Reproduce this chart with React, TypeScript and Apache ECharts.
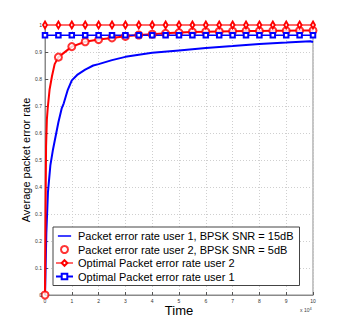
import React, { useEffect, useRef } from "react";
import * as echarts from "echarts";

// Time in units of 10^4
const user1Time = [0, 0.01, 0.05, 0.11, 0.2, 0.3, 0.5, 0.62, 0.7, 0.85, 1.0, 1.2, 1.5, 1.8, 2.0, 2.5, 3.0, 3.5, 4.0, 5.0, 6.0, 7.0, 8.0, 9.0, 9.9, 10];
const user1Rate = [0, 0.04, 0.23, 0.38, 0.48, 0.54, 0.64, 0.69, 0.71, 0.76, 0.795, 0.815, 0.835, 0.85, 0.855, 0.87, 0.882, 0.89, 0.897, 0.906, 0.915, 0.922, 0.93, 0.935, 0.94, 0.937];

const user2LineTime = [0, 0.02, 0.04, 0.07, 0.1, 0.17, 0.26, 0.36, 0.5];
const user2LineRate = [0, 0.3, 0.55, 0.65, 0.69, 0.76, 0.81, 0.855, 0.881];

const markerTime = [0, 0.5, 1, 1.5, 2, 2.5, 3, 3.5, 4, 4.5, 5, 5.5, 6, 6.5, 7, 7.5, 8, 8.5, 9, 9.5, 10];
const user2Rate = [0, 0.881, 0.92, 0.938, 0.946, 0.952, 0.958, 0.963, 0.966, 0.969, 0.972, 0.974, 0.975, 0.976, 0.977, 0.978, 0.978, 0.979, 0.979, 0.98, 0.98];
const optimalUser2 = 1.0;
const optimalUser1 = 0.962;

const yTickValues = [0, 0.1, 0.2, 0.3, 0.4, 0.5, 0.6, 0.7, 0.8, 0.9, 1];
const yTickLabels = ["0", "0.1", "0.2", "0.3", "0.4", "0.5", "0.6", "0.7", "0.8", "0.9", "1"];

const legendNames = [
  "Packet error rate user 1, BPSK SNR = 15dB",
  "Packet error rate user 2, BPSK SNR = 5dB",
  "Optimal Packet error rate user 2",
  "Optimal Packet error rate user 1",
];

export default function App() {
  const ref = useRef<HTMLDivElement>(null);
  useEffect(() => {
    if (!ref.current) return;
    const chart = echarts.init(ref.current, null, { renderer: "svg" });
    const font = "Liberation Sans, Arial, sans-serif";
    const user2Line = user2LineTime.map((t, i) => [t, user2LineRate[i]]).concat(
      markerTime.slice(2).map((t, i) => [t, user2Rate[i + 2]])
    );
    chart.setOption({
      animation: false,
      backgroundColor: "#fff",
      grid: {
        left: 45,
        right: 33,
        top: 25,
        bottom: 36,
        show: true,
        borderColor: "#8a8a8a",
        borderWidth: 1,
      },
      xAxis: {
        type: "value",
        min: 0,
        max: 10,
        interval: 1,
        name: "Time",
        nameLocation: "middle",
        nameGap: 9,
        nameMoveOverlap: false,
        nameTextStyle: { fontSize: 13, fontFamily: font, color: "#000" },
        axisLine: { lineStyle: { color: "#8a8a8a" } },
        axisTick: { inside: true, length: 3, lineStyle: { color: "#555" } },
        axisLabel: { fontSize: 5, color: "#333", margin: 3, fontFamily: font },
        splitLine: { show: true, lineStyle: { color: "#cfcfcf", type: [1, 2] } },
      },
      yAxis: {
        type: "value",
        position: "left",
        min: 0,
        max: 1,
        interval: 0.1,
        axisLine: { show: true, lineStyle: { color: "#8a8a8a" } },
        axisTick: { show: true, inside: true, length: 3, lineStyle: { color: "#555" } },
        axisLabel: { show: false },
        splitLine: { show: true, lineStyle: { color: "#cfcfcf", type: [1, 2] } },
      },
      legend: {
        orient: "vertical",
        left: 53,
        top: 227,
        data: [
          { name: legendNames[0], icon: "path://M0,0h0.01v0.01h-0.01zM0,3.6h17v1.8h-17zM16.99,8.99h0.01v0.01h-0.01z" },
          { name: legendNames[1] },
          { name: legendNames[2] },
          { name: legendNames[3] },
        ],
        backgroundColor: "#fff",
        borderColor: "#444",
        borderWidth: 1,
        borderRadius: 0,
        padding: [3, 6, 3, 2],
        itemWidth: 17,
        itemHeight: 7,
        itemGap: 1.5,
        textStyle: { fontSize: 11, fontFamily: font, color: "#000", lineHeight: 12 },
      },
      series: [
        {
          name: legendNames[0],
          type: "line",
          data: user1Time.map((t, i) => [t, user1Rate[i]]),
          symbol: "none",
          lineStyle: { color: "#0000ff", width: 2 },
          itemStyle: { color: "#0000ff" },
          z: 3,
        },
        {
          name: "user2line",
          type: "line",
          data: user2Line,
          symbol: "none",
          lineStyle: { color: "#ff0000", width: 2 },
          z: 3,
        },
        {
          name: legendNames[1],
          type: "scatter",
          data: markerTime.map((t, i) => [t, user2Rate[i]]),
          symbol: "emptyCircle",
          symbolSize: 7,
          itemStyle: { color: "#ff0000", borderColor: "#ff0000", borderWidth: 1.8 },
          clip: false,
          z: 4,
        },
        {
          name: legendNames[2],
          type: "line",
          data: markerTime.map((t) => [t, optimalUser2]),
          symbol: "emptyDiamond",
          symbolSize: [4, 7],
          showAllSymbol: true,
          lineStyle: { color: "#ff6a6a", width: 2 },
          itemStyle: { color: "#ff0000", borderColor: "#ff0000", borderWidth: 1 },
          clip: false,
          z: 5,
        },
        {
          name: legendNames[3],
          type: "line",
          data: markerTime.map((t) => [t, optimalUser1]),
          symbol: "emptyRect",
          symbolSize: 4.5,
          showAllSymbol: true,
          lineStyle: { color: "#0000ff", width: 1.5 },
          itemStyle: { color: "#0000ff", borderColor: "#0000ff", borderWidth: 1 },
          clip: false,
          z: 4,
        },
      ],
    });

    const yLabelTexts: any[] = [];
    yTickValues.forEach((v, i) => {
      const p = chart.convertToPixel({ gridIndex: 0 } as any, [0, v]) as any;
      if (p && isFinite(p[0]) && isFinite(p[1])) {
        yLabelTexts.push({
          type: "text",
          x: p[0] - 3,
          y: p[1],
          z: 10,
          style: {
            text: yTickLabels[i],
            fontSize: 5,
            fill: "#333",
            fontFamily: font,
            align: "right",
            verticalAlign: "middle",
          },
        });
      }
    });

    chart.setOption({
      graphic: [
        {
          type: "text",
          x: 26,
          y: 160,
          rotation: Math.PI / 2,
          style: {
            text: "Average packet error rate",
            fontSize: 11,
            fill: "#000",
            fontFamily: font,
            align: "center",
            verticalAlign: "middle",
          },
        },
        {
          type: "text",
          left: 300,
          top: 306,
          style: {
            text: "x 10{s|4}",
            fontSize: 5,
            fill: "#444",
            fontFamily: font,
            rich: { s: { fontSize: 4, verticalAlign: "top", padding: [0, 0, 3, 0] } },
          } as any,
        },
        ...yLabelTexts,
      ],
    });
    return () => chart.dispose();
  }, []);
  return <div ref={ref} style={{ width: 346, height: 331, position: "absolute", left: 0, top: 0 }} />;
}
